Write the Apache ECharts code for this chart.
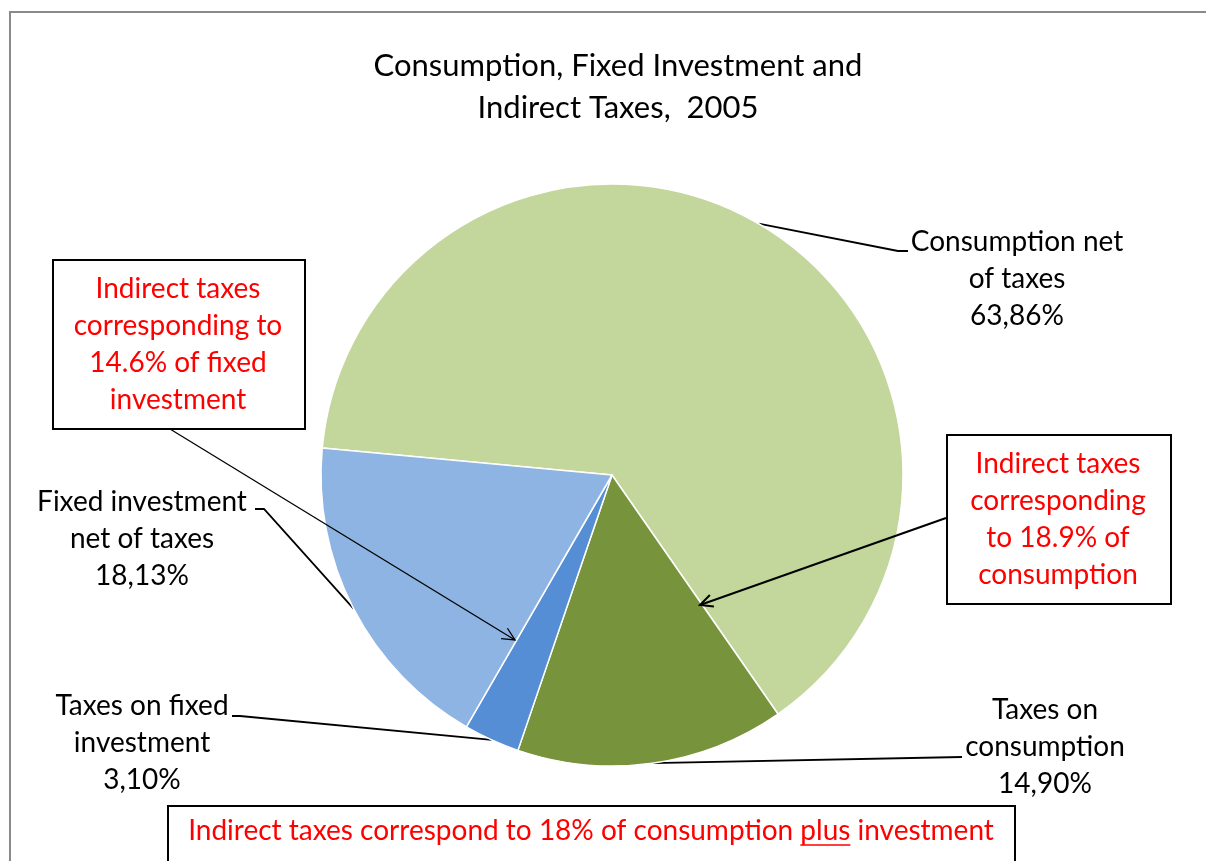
<!DOCTYPE html>
<html lang="en" style="height: 100%">
   <head>
      <meta charset="utf-8">
   </head>
   <body style="height: 100%; margin: 0">
      <div id="container" style="width: 1206px; height: 861px"></div>
      <script type="text/javascript" src="https://cdn.jsdelivr.net/npm/echarts@6/dist/echarts.min.js"></script>
      <script type="text/javascript">
// data
var categories = ['Consumption net\nof taxes', 'Taxes on\nconsumption', 'Taxes on fixed\ninvestment', 'Fixed investment\nnet of taxes'];
var shares = [63.86, 14.90, 3.10, 18.13];
var sliceColors = ['#C3D69B', '#77933C', '#558ED5', '#8EB4E3'];
var titleText = 'Consumption, Fixed Investment and\nIndirect Taxes,  2005';
var noteLeft = 'Indirect taxes\ncorresponding to\n14.6% of fixed\ninvestment';
var noteRight = 'Indirect taxes\ncorresponding\nto 18.9% of\nconsumption';
var noteBottom = ['Indirect taxes correspond to 18% of consumption ', 'plus', ' investment'];

var FONT = 'Lato';
var FS = 28;

// where each slice label sits, and the bends of its leader line
var labelSpots = [
  {x: 1017, y: 279, bend: [[898, 251], [908, 251]]},
  {x: 1045, y: 747, bend: [[962, 757]]},
  {x: 142, y: 743, bend: [[240, 716], [232, 716]]},
  {x: 142, y: 539, bend: [[264, 509], [255, 509]]}
];

var cx = 612, cy = 475, R = 291;

function arrow(from, to, lw) {
  var ang = Math.atan2(to[1] - from[1], to[0] - from[0]);
  var len = 14, spread = 0.45;
  var p1 = [to[0] - len * Math.cos(ang - spread), to[1] - len * Math.sin(ang - spread)];
  var p2 = [to[0] - len * Math.cos(ang + spread), to[1] - len * Math.sin(ang + spread)];
  return [
    {type: 'polyline', z: 100, shape: {points: [from, to]}, style: {stroke: '#000', lineWidth: lw, fill: null}},
    {type: 'polyline', z: 100, shape: {points: [p1, to, p2]}, style: {stroke: '#000', lineWidth: lw, fill: null}}
  ];
}

function textW(s) {
  var ctx = document.createElement('canvas').getContext('2d');
  ctx.font = FS + 'px ' + FONT;
  return ctx.measureText(s).width;
}

var dom = document.getElementById('container');
var myChart = echarts.init(dom, null, {renderer: 'canvas'});

var seriesData = categories.map(function (name, i) {
  return {name: name, value: shares[i], itemStyle: {color: sliceColors[i]}};
});

// bottom note with underlined "plus"
var fullNote = noteBottom.join('');
var noteCx = 591, noteY = 831;
var noteStart = noteCx - textW(fullNote) / 2;
var plusX0 = noteStart + textW(noteBottom[0]);
var plusX1 = plusX0 + textW(noteBottom[1]);

var graphics = [
  {type: 'rect', z: 1, shape: {x: 10, y: 12, width: 1400, height: 1000}, style: {fill: null, stroke: '#8a8a8a', lineWidth: 2}},
  {type: 'rect', z: 100, shape: {x: 53, y: 260, width: 252, height: 169}, style: {fill: '#fff', stroke: '#000', lineWidth: 2}},
  {type: 'text', z: 101, x: 178, y: 344, style: {text: noteLeft, fill: '#ff0000', font: FS + 'px ' + FONT, align: 'center', verticalAlign: 'middle', lineHeight: 37}},
  {type: 'rect', z: 100, shape: {x: 947, y: 435, width: 224, height: 169}, style: {fill: '#fff', stroke: '#000', lineWidth: 2}},
  {type: 'text', z: 101, x: 1058, y: 519, style: {text: noteRight, fill: '#ff0000', font: FS + 'px ' + FONT, align: 'center', verticalAlign: 'middle', lineHeight: 37}},
  {type: 'rect', z: 100, shape: {x: 168, y: 806, width: 847, height: 80}, style: {fill: '#fff', stroke: '#000', lineWidth: 2}},
  {type: 'text', z: 101, x: noteCx, y: noteY, style: {text: fullNote, fill: '#ff0000', font: FS + 'px ' + FONT, align: 'center', verticalAlign: 'middle'}},
  {type: 'line', z: 101, shape: {x1: plusX0, y1: noteY + 14, x2: plusX1, y2: noteY + 14}, style: {stroke: '#ff0000', lineWidth: 1.5}}
].concat(arrow([170, 429], [515, 640], 1.3), arrow([946, 518], [700, 605], 2));

var option = {
  animation: false,
  backgroundColor: '#fff',
  title: {
    text: titleText,
    left: 613,
    top: 40,
    textAlign: 'center',
    textStyle: {fontFamily: FONT, fontSize: 31, fontWeight: 'normal', color: '#000', lineHeight: 42}
  },
  series: [{
    type: 'pie',
    center: [cx, cy],
    radius: R,
    startAngle: 174.7,
    clockwise: true,
    data: seriesData,
    itemStyle: {borderColor: '#fff', borderWidth: 1.5},
    label: {
      show: true,
      position: 'outside',
      color: '#000',
      fontFamily: FONT,
      fontSize: FS,
      lineHeight: 37,
      align: 'center',
      formatter: function (p) {
        return p.name + '\n' + p.value.toFixed(2).replace('.', ',') + '%';
      }
    },
    labelLine: {show: true, lineStyle: {color: '#000', width: 1.8}},
    labelLayout: function (params) {
      var s = labelSpots[params.dataIndex];
      var first = params.labelLinePoints ? params.labelLinePoints[0] : null;
      if (!first) {
        var acc = 0;
        for (var i = 0; i < params.dataIndex; i++) acc += shares[i];
        var total = shares.reduce(function (a, b) { return a + b; }, 0);
        var mid = (174.7 - (acc + shares[params.dataIndex] / 2) / total * 360) * Math.PI / 180;
        first = [cx + R * Math.cos(mid), cy - R * Math.sin(mid)];
      }
      return {
        x: s.x,
        y: s.y,
        align: 'center',
        verticalAlign: 'middle',
        labelLinePoints: [first].concat(s.bend)
      };
    }
  }],
  graphic: graphics
};

myChart.setOption(option);
window.addEventListener('resize', myChart.resize);
      </script>
   </body>
</html>
